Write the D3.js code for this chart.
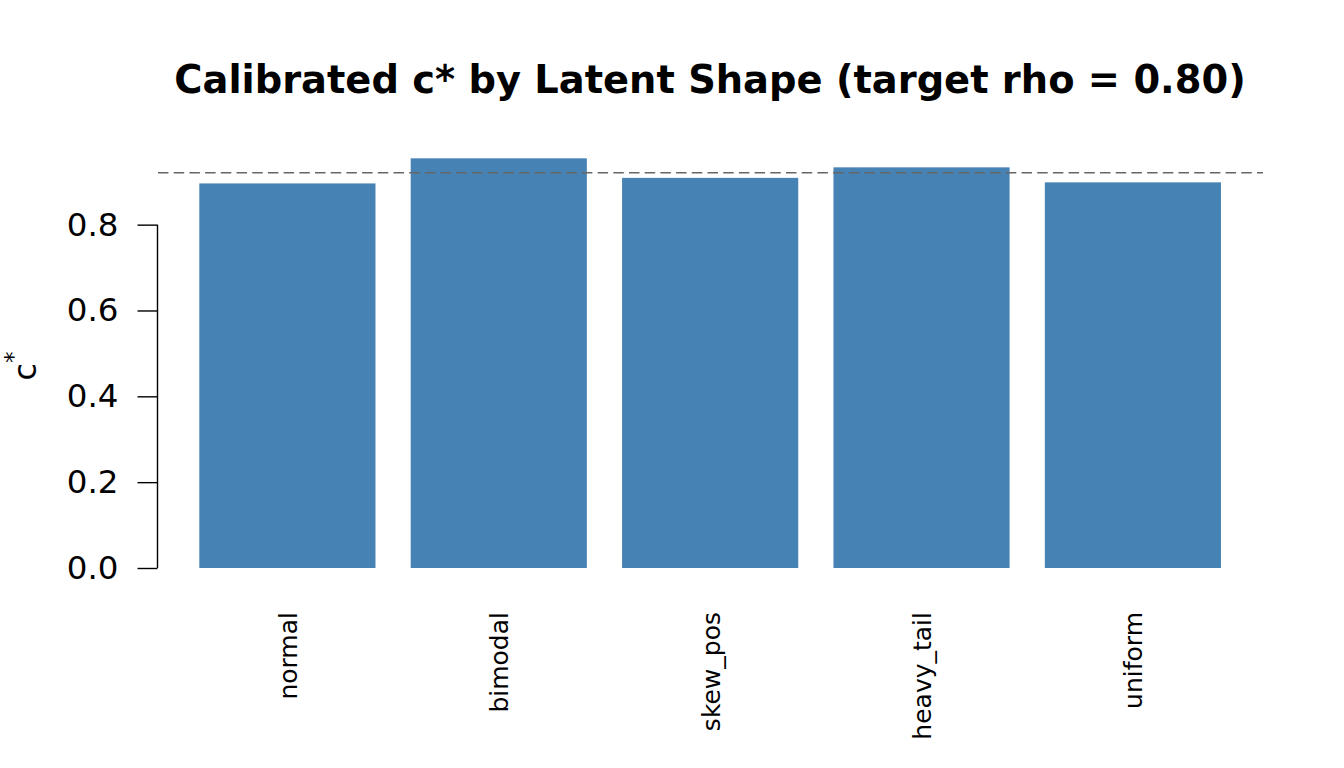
<html lang="en">
<head>
<meta charset="UTF-8">
<title>Calibrated c*</title>
<style>
  body { margin: 0; background: #fff; }
  text { font-family: "DejaVu Sans", sans-serif; }
</style>
</head>
<body>
<script src="https://d3js.org/d3.v7.min.js"></script>
<div id="my_dataviz"></div>
<script>
// data
var shapes = ["normal", "bimodal", "skew_pos", "heavy_tail", "uniform"];
var cstar = [0.896, 0.9545, 0.909, 0.9335, 0.8985];
var targetLine = 0.921;
var yTicks = [0, 0.2, 0.4, 0.6, 0.8];

var W = 1344, H = 768;

var svg = d3.select("#my_dataviz")
  .append("svg")
    .attr("width", W)
    .attr("height", H);

// plot region: bars sit in [0.2, 6.0] of R user units, region goes -0.032..6.232
var x = d3.scaleBand()
  .domain(shapes)
  .range([164.1, 1256.2])
  .paddingInner(1 / 6)
  .paddingOuter(1 / 6);

var y = d3.scaleLinear()
  .domain([0, 1])
  .range([568, 138.8]);

// bars
svg.selectAll("rect.bar")
  .data(shapes)
  .enter()
  .append("rect")
    .attr("class", "bar")
    .attr("x", function(d) { return x(d); })
    .attr("width", x.bandwidth())
    .attr("y", function(d, i) { return y(cstar[i]); })
    .attr("height", function(d, i) { return y(0) - y(cstar[i]); })
    .style("fill", "steelblue");

// target line
svg.append("line")
  .attr("x1", 158)
  .attr("x2", 1263)
  .attr("y1", y(targetLine))
  .attr("y2", y(targetLine))
  .attr("stroke", "#666666")
  .attr("stroke-width", 1.6)
  .attr("stroke-dasharray", "10.5,5.2");

// y axis
var yAxis = svg.append("g")
  .attr("transform", "translate(157.5,0)")
  .call(d3.axisLeft(y).tickValues(yTicks).tickFormat(d3.format(".1f")).tickSize(20).tickSizeOuter(0).tickPadding(19));
yAxis.select(".domain")
  .attr("d", "M0," + y(0) + "V" + y(0.8))
  .attr("stroke", "#000")
  .attr("stroke-width", 1.4);
yAxis.selectAll(".tick line").attr("stroke", "#000").attr("stroke-width", 1.4);
yAxis.selectAll(".tick text")
  .style("font-size", "32.5px")
  .style("font-family", "DejaVu Sans, sans-serif")
  .attr("fill", "#000");

// x labels (vertical)
svg.selectAll("text.xlab")
  .data(shapes)
  .enter()
  .append("text")
    .attr("class", "xlab")
    .attr("transform", function(d) {
      return "translate(" + (x(d) + x.bandwidth() / 2 + 1) + ",612) rotate(-90)";
    })
    .attr("text-anchor", "end")
    .attr("dominant-baseline", "central")
    .style("font-size", "25px")
    .text(function(d) { return d; });

// y label c^*
var ylab = svg.append("text")
  .attr("transform", "translate(36,366) rotate(-90)")
  .attr("text-anchor", "middle")
  .style("font-size", "32px");
ylab.append("tspan").text("c");
ylab.append("tspan")
  .attr("dy", -15)
  .style("font-size", "23px")
  .text("*");

// title
svg.append("text")
  .attr("x", 710)
  .attr("y", 93)
  .attr("text-anchor", "middle")
  .style("font-size", "38.4px")
  .style("font-weight", "bold")
  .text("Calibrated c* by Latent Shape (target rho = 0.80)");
</script>
</body>
</html>
